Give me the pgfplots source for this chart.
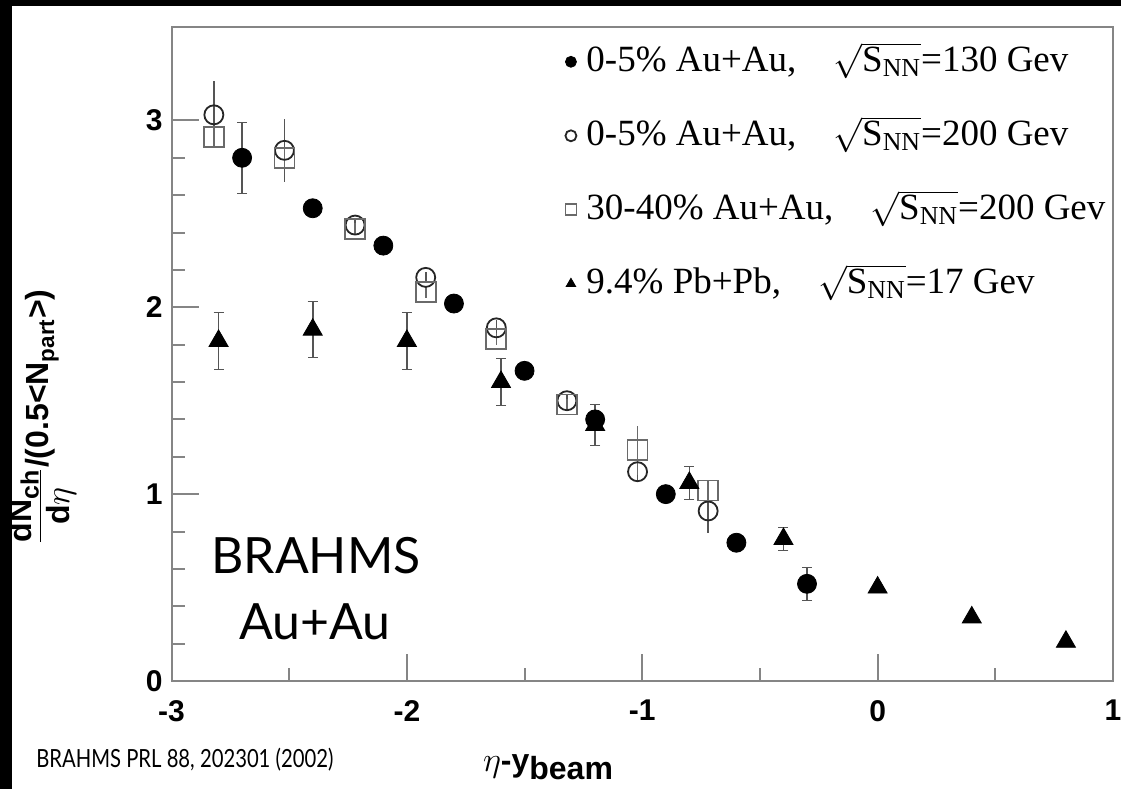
\documentclass[border=0pt]{standalone}
\usepackage{fontspec}
\setmainfont{Liberation Sans}
\newfontfamily\timesf{Liberation Serif}
\newfontfamily\gill{Lato}
\usepackage{pgfplots}
\pgfplotsset{compat=1.18}

\definecolor{axgray}{HTML}{858585}
\definecolor{errgray}{HTML}{555555}
\definecolor{sqgray}{HTML}{6A6A6A}

\begin{document}
\begin{tikzpicture}[x=0.5pt,y=0.5pt]
% black frame of the slide
\fill[black] (0,0) rectangle (1121,789);
\fill[white] (12,0) rectangle (1121,783);

\begin{axis}[
    at={(85.75pt,54pt)}, anchor=south west,
    scale only axis, width=470.75pt, height=327pt,
    xmin=-3, xmax=1, ymin=0, ymax=3.5,
    xtick={-3,-2,-1,0,1}, ytick={0,1,2,3},
    minor x tick num=1, minor y tick num=4,
    tick align=inside, tick pos=left,
    major tick length=13.5pt, minor tick length=6.5pt,
    axis line style={axgray, line width=1pt},
    tick style={axgray, line width=1pt},
    /pgf/number format/assume math mode=true,
    tick label style={font=\bfseries\fontsize{15}{17}\selectfont},
    xticklabel style={yshift=-6pt},
    yticklabel style={xshift=-1pt},
    legend style={draw=none, fill=none, inner sep=0pt,
        at={(rel axis cs:0.418,0.978)}, anchor=north west,
        font=\timesf\fontsize{18.5}{22}\selectfont,
        row sep=17pt, column sep=5pt,
        nodes={inner sep=0pt, text height=15pt, text depth=5pt}},
    legend cell align=left,
    legend image code/.code={\draw[#1, mark size=2.75pt] plot coordinates {(0cm,0cm)};},
]
% 0-5% Au+Au 130 GeV
\addplot[only marks, mark=*, black, mark size=4.75pt,
    error bars/.cd, y dir=both, y explicit,
    error bar style={errgray, line width=0.8pt},
    error mark options={rotate=90, errgray, mark size=2.5pt}]
coordinates {
(-2.7,2.80) +- (0,0.19)
(-2.4,2.53) +- (0,0.0)
(-2.1,2.33) +- (0,0.0)
(-1.8,2.02) +- (0,0.0)
(-1.5,1.66) +- (0,0.0)
(-1.2,1.40) +- (0,0.0)
(-0.9,1.00) +- (0,0.0)
(-0.6,0.74) +- (0,0.0)
(-0.3,0.52) +- (0,0.09)
};
\addlegendentry{0-5\% Au+Au,\quad$\sqrt{\mbox{S\textsubscript{NN}}}$=130 Gev}

% 0-5% Au+Au 200 GeV
\addplot[only marks, mark=o, black!85, mark size=4.75pt, mark options={line width=0.9pt},
    error bars/.cd, y dir=both, y explicit,
    error bar style={errgray, line width=0.8pt},
    error mark=none]
coordinates {
(-2.82,3.03) +- (0,0.18)
(-2.52,2.84) +- (0,0.17)
(-2.22,2.44) +- (0,0.03)
(-1.92,2.16) +- (0,0.03)
(-1.62,1.89) +- (0,0.04)
(-1.32,1.50) +- (0,0.03)
(-1.02,1.12) +- (0,0.05)
(-0.72,0.91) +- (0,0.12)
};
\addlegendentry{0-5\% Au+Au,\quad$\sqrt{\mbox{S\textsubscript{NN}}}$=200 Gev}

% 30-40% Au+Au 200 GeV
\addplot[only marks, mark=square, sqgray, mark size=5pt, mark options={line width=0.9pt},
    error bars/.cd, y dir=both, y explicit,
    error bar style={sqgray, line width=0.8pt},
    error mark=none]
coordinates {
(-2.82,2.91) +- (0,0.05)
(-2.52,2.80) +- (0,0.05)
(-2.22,2.42) +- (0,0.03)
(-1.92,2.08) +- (0,0.03)
(-1.62,1.83) +- (0,0.03)
(-1.32,1.48) +- (0,0.03)
(-1.02,1.235) +- (0,0.13)
(-0.72,1.02) +- (0,0.05)
};
\addlegendentry{30-40\% Au+Au,\quad$\sqrt{\mbox{S\textsubscript{NN}}}$=200 Gev}

% 9.4% Pb+Pb 17 GeV
\addplot[only marks, mark=triangle*, black, mark size=5.5pt,
    error bars/.cd, y dir=both, y explicit,
    error bar style={errgray, line width=0.8pt},
    error mark options={rotate=90, errgray, mark size=2.5pt}]
coordinates {
(-2.8,1.82) +- (0,0.15)
(-2.4,1.88) +- (0,0.15)
(-2.0,1.82) +- (0,0.15)
(-1.6,1.60) +- (0,0.125)
(-1.2,1.37) +- (0,0.11)
(-0.8,1.06) +- (0,0.09)
(-0.4,0.76) +- (0,0.06)
(0.0,0.50) +- (0,0.0)
(0.4,0.34) +- (0,0.0)
(0.8,0.21) +- (0,0.0)
};
\addlegendentry{9.4\% Pb+Pb,\quad$\sqrt{\mbox{S\textsubscript{NN}}}$=17 Gev}
\end{axis}

% axis titles
\node[rotate=90, inner sep=0pt, font=\bfseries\fontsize{16}{18}\selectfont] at (42,372)
  {$\frac{\mbox{dN\raisebox{-0.45ex}{\fontsize{12.5}{13}\selectfont ch}\rule[-4pt]{0pt}{1pt}}}{\mbox{\rule{0pt}{14pt}d$\eta$}}$/(0.5<N\textsubscript{part}>)};
\node[anchor=base, font=\bfseries\fontsize{16}{18}\selectfont] at (548,18)
  {$\eta$-y\raisebox{-0.5ex}{\fontsize{16}{18}\selectfont beam}};

% annotations
\node[anchor=base, font=\gill\fontsize{25}{30}\selectfont] at (316,216) {BRAHMS};
\node[anchor=base, font=\gill\fontsize{25}{30}\selectfont] at (315,150) {Au+Au};
\node[anchor=base west, inner sep=0pt, xscale=0.81, transform shape,
      font=\gill\fontsize{12.5}{14}\selectfont] at (36,22) {BRAHMS PRL 88, 202301 (2002)};

\pgfresetboundingbox
\path[use as bounding box] (0,0) rectangle (1121,789);
\end{tikzpicture}
\end{document}
